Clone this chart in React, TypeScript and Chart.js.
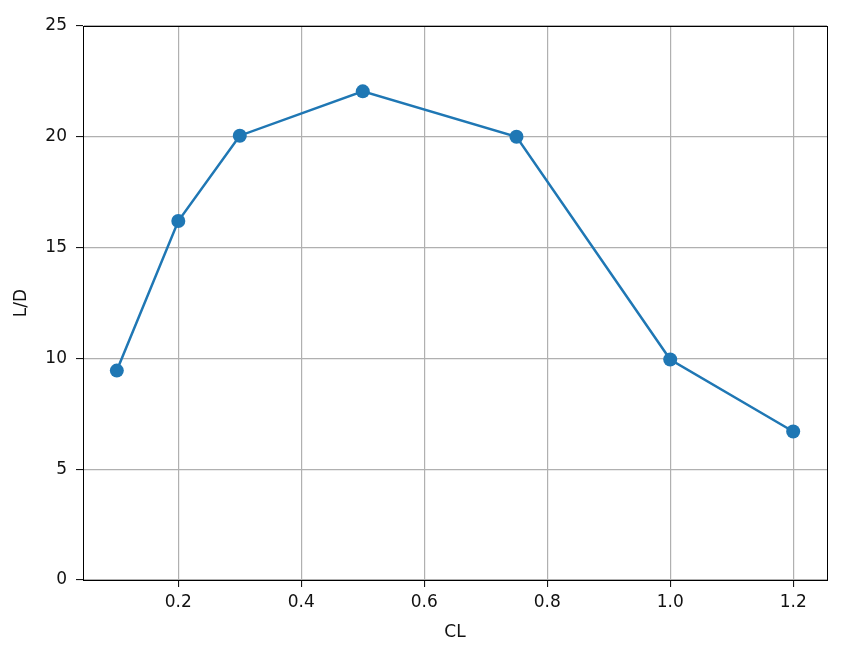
import React, { useEffect, useRef } from "react";
import { Chart, registerables } from "chart.js";

Chart.register(...registerables);

const clValues = [0.1, 0.2, 0.3, 0.5, 0.75, 1.0, 1.2];
const ldValues = [9.45, 16.2, 20.05, 22.05, 20.0, 9.95, 6.7];
const xAxisTitle = "CL";
const yAxisTitle = "L/D";

const FONT = "'DejaVu Sans', sans-serif";
const FS = 17;

const framePlugin = {
  id: "frame",
  afterDraw(chart: any) {
    const { ctx, chartArea } = chart;
    ctx.save();
    ctx.strokeStyle = "#000";
    ctx.lineWidth = 1;
    ctx.strokeRect(
      Math.round(chartArea.left) + 0.5,
      Math.round(chartArea.top) + 0.5,
      Math.round(chartArea.right - chartArea.left),
      Math.round(chartArea.bottom - chartArea.top)
    );
    ctx.restore();
  },
};

export default function App() {
  const ref = useRef<HTMLCanvasElement>(null);
  useEffect(() => {
    document.body.style.margin = "0";
    const canvas = ref.current!;
    const chart = new Chart(canvas, {
      type: "line",
      data: {
        datasets: [
          {
            data: clValues.map((x, i) => ({ x, y: ldValues[i] })),
            borderColor: "#1f77b4",
            backgroundColor: "#1f77b4",
            borderWidth: 2.5,
            pointRadius: 7,
            pointHoverRadius: 7,
            pointBorderWidth: 0,
            tension: 0,
          },
        ],
      },
      options: {
        animation: false,
        responsive: false,
        devicePixelRatio: 1,
        layout: { padding: { top: 26, right: 21, left: 0, bottom: 0 } },
        plugins: { legend: { display: false }, tooltip: { enabled: false } },
        scales: {
          x: {
            type: "linear",
            min: 0.045,
            max: 1.255,
            grid: {
              color: "#b0b0b0",
              lineWidth: 1.2,
              tickColor: "#000",
              tickLength: 7,
              tickWidth: 1,
            },
            border: { color: "#000", width: 1 },
            ticks: {
              stepSize: 0.2,
              includeBounds: false,
              padding: 5,
              color: "#111",
              font: { family: FONT, size: FS },
              callback: (v: any) => Number(v).toFixed(1),
              maxRotation: 0,
            },
            title: {
              display: true,
              text: xAxisTitle,
              color: "#111",
              font: { family: FONT, size: FS },
              padding: { top: 0, bottom: 7 },
            },
            afterFit: (s: any) => {
              s.height = 70;
            },
          },
          y: {
            type: "linear",
            min: 0,
            max: 25,
            grid: {
              color: "#b0b0b0",
              lineWidth: 1.2,
              tickColor: "#000",
              tickLength: 7,
              tickWidth: 1,
            },
            border: { color: "#000", width: 1 },
            ticks: {
              stepSize: 5,
              padding: 9,
              color: "#111",
              font: { family: FONT, size: FS },
            },
            title: {
              display: true,
              text: yAxisTitle,
              color: "#111",
              font: { family: FONT, size: FS },
              padding: { top: 11, bottom: 0 },
            },
            afterFit: (s: any) => {
              s.width = 83;
            },
          },
        },
      },
      plugins: [framePlugin],
    });
    return () => chart.destroy();
  }, []);
  return (
    <div style={{ width: 848, height: 650 }}>
      <canvas ref={ref} width={848} height={650} style={{ width: 848, height: 650, display: "block" }} />
    </div>
  );
}
